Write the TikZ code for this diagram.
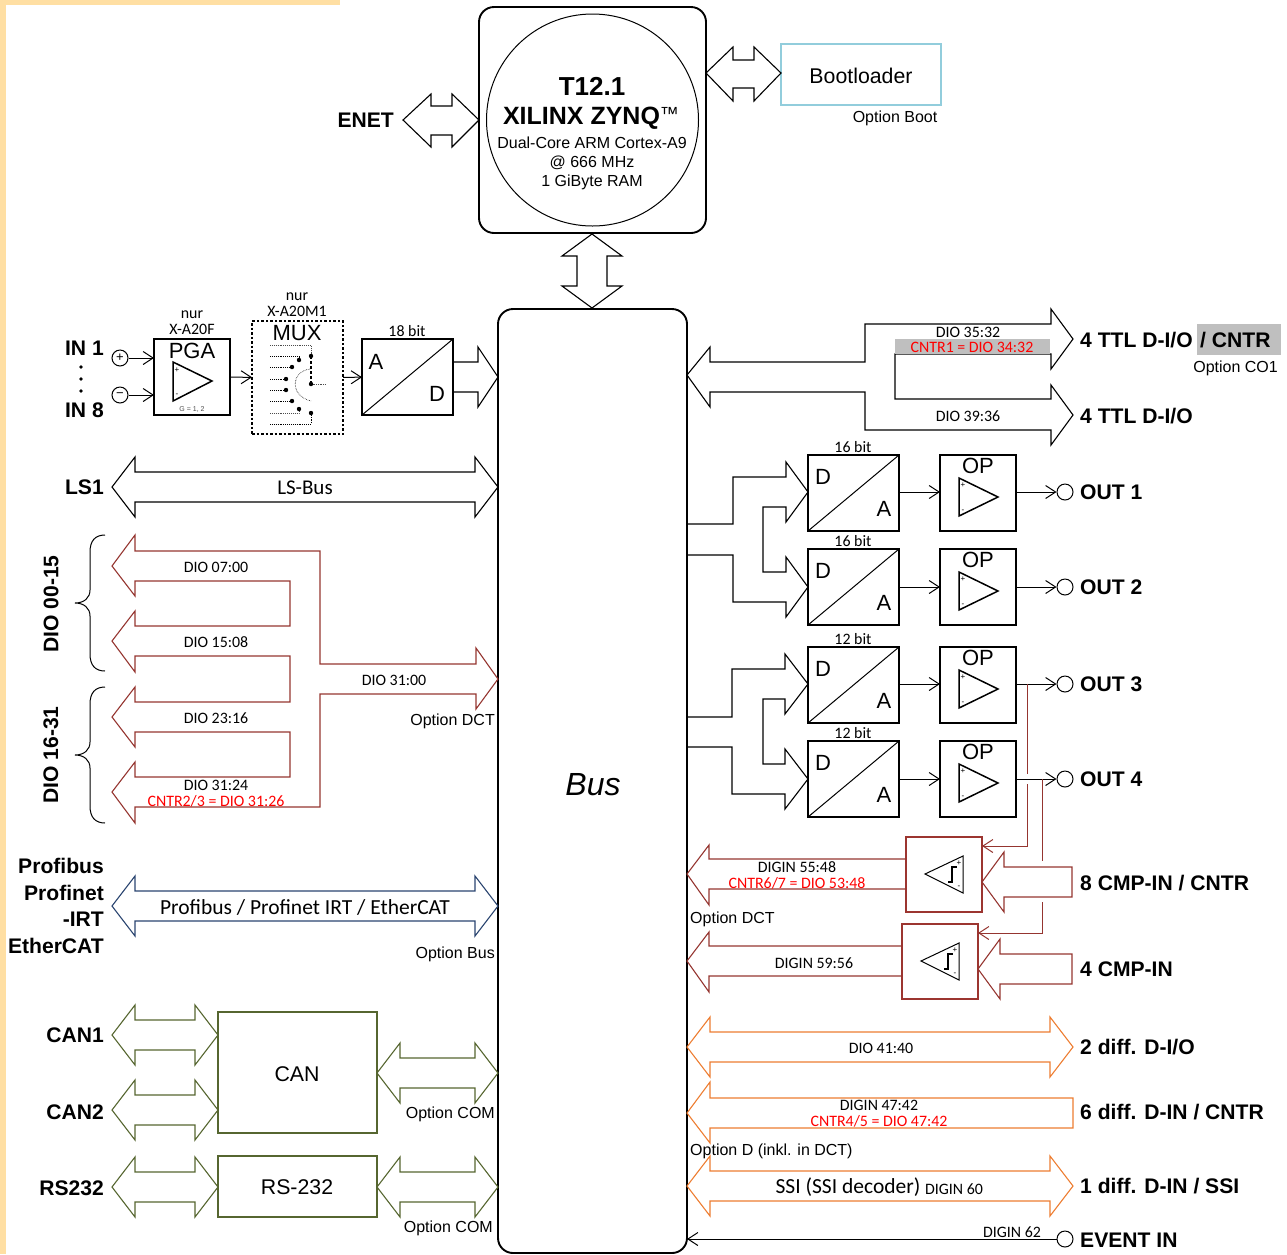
\documentclass[tikz,border=0pt]{standalone}
\usepackage{fontspec}
\setmainfont{Liberation Sans}
\newfontfamily\calibri{Carlito}
\usetikzlibrary{arrows.meta}
\definecolor{dctred}{HTML}{953530}
\definecolor{cmpred}{HTML}{9C3530}
\definecolor{cangreen}{HTML}{566630}
\definecolor{diffor}{HTML}{ED7D31}
\definecolor{busblue}{HTML}{2A4470}
\definecolor{bootblue}{HTML}{92CDDC}
\definecolor{stripe}{HTML}{FFDFA3}
\definecolor{markgray}{HTML}{BFBFBF}
\tikzset{
  blk/.style={draw,line width=1.9pt,inner sep=0pt,outer sep=0pt,anchor=north west},
  sig/.style={-{Straight Barb[length=10pt,width=13pt]},line width=1pt},
  hollow/.style={line width=1.1pt,line join=miter},
  pinc/.style={draw,circle,inner sep=0pt,minimum size=16pt,line width=1pt,font=\fontsize{13}{13}\selectfont},
  bold/.style={font=\fontsize{21.1}{25}\selectfont\bfseries,inner sep=0pt},
  arial/.style={font=\fontsize{16}{19}\selectfont,inner sep=0pt,yshift=-1pt},
  big/.style={font=\fontsize{22}{26}\selectfont,inner sep=0pt},
  small/.style={font=\calibri\fontsize{15.9}{18}\selectfont,inner sep=0pt,yshift=-0.5pt},
  medium/.style={font=\calibri\fontsize{21.5}{25}\selectfont,inner sep=0pt},
  tiny/.style={font=\fontsize{8}{8}\selectfont,inner sep=0pt},
}
% double headed block arrow: colour, left tip, right tip, mid line
\newcommand{\dblarrow}[4]{
  \draw[hollow,#1] (#2,#4) -- ({#2+23},{#4-30}) -- ({#2+23},{#4-15}) -- ({#3-23},{#4-15}) -- ({#3-23},{#4-30}) -- (#3,#4)
    -- ({#3-23},{#4+30}) -- ({#3-23},{#4+15}) -- ({#2+23},{#4+15}) -- ({#2+23},{#4+30}) -- cycle;
}
% curly bracket left of the DIO arrows: top end, bottom end
\newcommand{\diobrace}[2]{
  \draw[line width=1pt] (105,#1) .. controls (95,#1) and (90,{#1+6}) .. (90,{#1+17}) -- (90,{(#1+#2)/2-13})
    .. controls (90,{(#1+#2)/2-5}) and (84,{(#1+#2)/2}) .. (75,{(#1+#2)/2})
    .. controls (84,{(#1+#2)/2}) and (90,{(#1+#2)/2+5}) .. (90,{(#1+#2)/2+13}) -- (90,{#2-17})
    .. controls (90,{#2-6}) and (95,#2) .. (105,#2);
}
\begin{document}
\begin{tikzpicture}[x=1pt,y=-1pt]
\useasboundingbox (0,0) rectangle (1287,1254);
\fill[stripe] (0,0) rectangle (6,1254);
\fill[stripe] (0,0) rectangle (340,5);
% processor
\node[blk,rounded corners=15pt,minimum width=227pt,minimum height=226pt] (cpu) at (479,7) {};
\node[draw,circle,line width=1pt,minimum size=212pt,inner sep=0pt] (cpuc) at (592.5,120) {};
\node[font=\fontsize{26}{30}\selectfont\bfseries,inner sep=0pt] (cpuname) at (592,86) {T12.1};
\node[font=\fontsize{25}{30}\selectfont\bfseries,inner sep=0pt] (cpuchip) at (591,118) {XILINX ZYNQ\raisebox{4pt}{\fontsize{19}{19}\selectfont\mdseries™}};
\node[arial] (cpucore) at (592,142) {Dual-Core ARM Cortex-A9};
\node[arial] (cpuclk) at (592,162) {@ 666 MHz};
\node[arial] (cpuram) at (592,181) {1 GiByte RAM};
\node[bold,anchor=east] (enet) at (394,120) {ENET};
\draw[hollow] (403,120) -- (431,94) -- (431,106) -- (452,106) -- (452,94) -- (479,120) -- (452,147) -- (452,135) -- (431,135) -- (431,147) -- cycle;
\node[blk,draw=bootblue,minimum width=160pt,minimum height=61pt] (boot) at (781,44) {};
\node[font=\fontsize{21.3}{25}\selectfont,inner sep=0pt] (boottxt) at (861,76) {Bootloader};
\node[arial] (bootopt) at (895,117) {Option Boot};
\draw[hollow] (706,73) -- (733,47) -- (733,60) -- (754,60) -- (754,47) -- (781,73) -- (754,101) -- (754,88) -- (733,88) -- (733,101) -- cycle;
\draw[hollow] (592,234) -- (622,256) -- (607,256) -- (607,286) -- (622,286) -- (592,308) -- (562,286) -- (577,286) -- (577,256) -- (562,256) -- cycle;
% bus
\node[blk,rounded corners=15pt,minimum width=189pt,minimum height=944pt] (bus) at (498,309) {};
\node[font=\fontsize{32}{38}\selectfont\itshape,inner sep=0pt] (bustxt) at (593,785) {Bus};
% analog input
\node[bold,anchor=east] (in1) at (104,348) {IN 1};
\node[bold,anchor=east] (in8) at (104,410) {IN 8};
\foreach \y in {367,379,391} \fill (81,\y) circle (1.8pt);
\node[pinc] (inp) at (120,358) {+};
\node[pinc] (inm) at (120,395) {−};
\node[blk,minimum width=76pt,minimum height=76pt] (pga) at (154,339) {};
\draw[sig] (inp) -- (pga.west |- inp);
\draw[sig] (inm) -- (pga.west |- inm);
\node[big] (pgatxt) at (192,351) {PGA};
\draw[line width=1.5pt] (173,362) -- (212,381) -- (173,401) -- cycle;
\node[tiny] (pgap) at (177,370) {+};
\node[tiny] (pgam) at (177,395) {-};
\node[font=\fontsize{7}{7}\selectfont,inner sep=0pt,text=black!70] (pgagain) at (192,409) {G = 1, 2};
\node[small] (pganur) at (192,314) {nur};
\node[small] (pganame) at (192,329) {X-A20F};
\node[blk,dash pattern=on 2.5pt off 2pt,minimum width=91pt,minimum height=113pt] (mux) at (252,321) {};
\node[small] (muxnur) at (297,296) {nur};
\node[small] (muxname) at (297,311) {X-A20M1};
\node[big] (muxtxt) at (297,333) {MUX};
\draw[densely dotted,line width=0.9pt,black!70] (270,345) -- (311,345) -- (311,356);
\draw[densely dotted,line width=0.9pt] (270,356) -- (299,356) -- (299,360);
\draw[densely dotted,line width=0.9pt] (270,367) -- (292,367);
\draw[densely dotted,line width=0.9pt] (270,379) -- (286,379);
\draw[densely dotted,line width=0.9pt] (270,390) -- (286,390);
\draw[densely dotted,line width=0.9pt] (270,401) -- (292,401);
\draw[densely dotted,line width=0.9pt,black!70] (270,413) -- (299,413) -- (299,409);
\draw[densely dotted,line width=0.9pt] (270,424) -- (311,424) -- (311,413);
\draw[densely dashed,line width=1.2pt] (311,356) -- (311,384);
\draw[densely dotted,line width=0.7pt,black!70] (311,384) -- (326,384);
\draw[densely dotted,line width=0.6pt] (310,369) .. controls (290,372) and (290,396) .. (311,401);
\foreach \x/\y in {311/356,299/360,292/367,286/379,286/390,292/401,299/409,311/413,311/384} \fill (\x,\y) circle (2.2pt);
\node[blk,minimum width=91pt,minimum height=76pt] (ad) at (362,339) {};
\draw[line width=1pt] (ad.south west) -- (ad.north east);
\node[big] (adA) at (376,362) {A};
\node[big] (adD) at (437,394) {D};
\node[small] (adbit) at (407,331) {18 bit};
\draw[sig] (pga) -- (mux);
\draw[sig] (mux) -- (ad);
\draw[hollow] (453,362) -- (478,362) -- (478,347) -- (498,377) -- (478,407) -- (478,392) -- (453,392);
% left side buses
\node[bold,anchor=east] (ls1) at (104,487) {LS1};
\dblarrow{}{112}{498}{487}
\node[font=\calibri\fontsize{21}{25}\selectfont,inner sep=0pt] (lsbus) at (305,488) {LS-Bus};
\node[bold,rotate=90] (dio0) at (51,604) {DIO 00-15};
\node[bold,rotate=90] (dio1) at (51,755) {DIO 16-31};
\diobrace{535}{671}
\diobrace{687}{823}
\draw[hollow,dctred] (135,596) -- (135,581) -- (290,581) -- (290,626) -- (135,626) -- (135,611) -- (112,641) -- (135,672) -- (135,656) -- (290,656) -- (290,702) -- (135,702) -- (135,687) -- (112,717) -- (135,747) -- (135,732) -- (290,732) -- (290,777) -- (135,777) -- (135,762) -- (112,792) -- (135,823) -- (135,807) -- (320,807) -- (320,694) -- (476,694) -- (476,709) -- (498,679) -- (476,648) -- (476,664) -- (320,664) -- (320,551) -- (135,551) -- (135,535) -- (112,566) -- cycle;
\node[small] (dio07) at (216,567) {DIO 07:00};
\node[small] (dio15) at (216,642) {DIO 15:08};
\node[small] (dio23) at (216,718) {DIO 23:16};
\node[small] (dio31) at (216,785) {DIO 31:24};
\node[small,text=red] (cntr23) at (216,801) {CNTR2/3 = DIO 31:26};
\node[small] (dioall) at (394,680) {DIO 31:00};
\node[arial,anchor=east] (optdct) at (495,720) {Option DCT};
\node[bold,anchor=east,align=right,font=\fontsize{21.1}{26.8}\selectfont\bfseries] (profi) at (104,906) {Profibus\\Profinet\\-IRT\\EtherCAT};
\dblarrow{busblue}{112}{498}{906}
\node[medium] (profitxt) at (305,907) {Profibus / Profinet IRT / EtherCAT};
\node[arial,anchor=east] (optbus) at (495,953) {Option Bus};
\node[bold,anchor=east] (can1) at (104,1035) {CAN1};
\node[bold,anchor=east] (can2) at (104,1112) {CAN2};
\node[bold,anchor=east] (rs232) at (104,1188) {RS232};
\dblarrow{cangreen}{112}{218}{1035}
\dblarrow{cangreen}{112}{218}{1110}
\dblarrow{cangreen}{112}{218}{1187}
\dblarrow{cangreen}{377}{498}{1073}
\dblarrow{cangreen}{377}{498}{1187}
\node[blk,draw=cangreen,minimum width=159pt,minimum height=121pt] (canb) at (218,1012) {};
\node[blk,draw=cangreen,minimum width=159pt,minimum height=61pt] (rsb) at (218,1156) {};
\node[font=\fontsize{21.3}{25}\selectfont,inner sep=0pt] (cantxt) at (297,1074) {CAN};
\node[font=\fontsize{21.3}{25}\selectfont,inner sep=0pt] (rstxt) at (297,1187) {RS-232};
\node[arial,anchor=east] (optcom1) at (495,1113) {Option COM};
\node[arial,anchor=east] (optcom2) at (493,1227) {Option COM};
% TTL
\draw[hollow] (687,375) -- (710,347) -- (710,362) -- (865,362) -- (865,324) -- (1051,324) -- (1051,309) -- (1073,339) -- (1051,369) -- (1051,354) -- (895,354) -- (895,399) -- (1051,399) -- (1051,385) -- (1073,415) -- (1051,445) -- (1051,430) -- (865,430) -- (865,392) -- (710,392) -- (710,407) -- cycle;
\fill[markgray] (895,339) rectangle (1050,354);
\fill[markgray] (1197,324) rectangle (1281,355);
\node[small] (dio35) at (968,332) {DIO 35:32};
\node[small,text=red] (cntr1) at (972,347) {CNTR1 = DIO 34:32};
\node[small] (dio39) at (968,416) {DIO 39:36};
\node[bold,anchor=west] (ttl1) at (1080,340) {4 TTL D-I/O};
\node[bold,anchor=west] (ttl1b) at (1200,340) {/ CNTR};
\node[arial,anchor=east] (optco) at (1278,367) {Option CO1};
\node[bold,anchor=west] (ttl2) at (1080,416) {4 TTL D-I/O};
% analog outputs
\foreach \n/\ytop/\ya/\bits in {1/455/492/16,2/549/587/16,3/647/684/12,4/741/779/12} {
  \node[blk,minimum width=91pt,minimum height=76pt] (da\n) at (808,\ytop) {};
  \draw[line width=1pt] (da\n.south west) -- (da\n.north east);
  \node[big] (daD\n) at ([shift={(15,22)}]da\n.north west) {D};
  \node[big] (daA\n) at ([shift={(76,54)}]da\n.north west) {A};
  \node[small] (dabit\n) at ([shift={(45,-8.5)}]da\n.north west) {\bits\ bit};
  \node[blk,minimum width=76pt,minimum height=76pt] (op\n) at (940,\ytop) {};
  \node[big] (optxt\n) at ([shift={(38,11)}]op\n.north west) {OP};
  \draw[line width=1.5pt] ([shift={(19,23)}]op\n.north west) -- ++(39,19) -- ++(-39,19) -- cycle;
  \node[tiny] (opp\n) at ([shift={(23,30)}]op\n.north west) {+};
  \node[tiny] (opm\n) at ([shift={(23,56)}]op\n.north west) {-};
  \node[pinc] (out\n) at (1065,\ya) {};
  \node[bold,anchor=west,yshift=-0.5pt] (outtxt\n) at (1080,\ya) {OUT \n};
  \draw[sig] (da\n.east |- out\n) -- (op\n.west |- out\n);
  \draw[sig] (op\n.east |- out\n) -- (out\n);
}
\draw[hollow] (687,524) -- (733,524) -- (733,477) -- (786,477) -- (786,462) -- (808,492) -- (786,522) -- (786,507) -- (763,507) -- (763,572) -- (786,572) -- (786,557) -- (808,587) -- (786,617) -- (786,602) -- (733,602) -- (733,555) -- (687,555);
\draw[hollow] (687,717) -- (732,717) -- (732,669) -- (785,669) -- (785,654) -- (808,684) -- (785,714) -- (785,699) -- (763,699) -- (763,764) -- (785,764) -- (785,749) -- (808,779) -- (785,809) -- (785,794) -- (732,794) -- (732,747) -- (687,747);
% comparators
\node[blk,draw=cmpred,minimum width=76pt,minimum height=75pt] (cmp1) at (906,837) {};
\node[blk,draw=cmpred,minimum width=76pt,minimum height=75pt] (cmp2) at (902,924) {};
\foreach \n in {1,2} {
  \draw[line width=1pt] ([shift={(19,37)}]cmp\n.north west) -- ++(38,-18) -- ++(0,37) -- cycle;
  \draw[line width=1.2pt] ([shift={(42,45)}]cmp\n.north west) -- ++(4,0) -- ++(0,-15) -- ++(5,0);
  \node[tiny] (cmpp\n) at ([shift={(53,26)}]cmp\n.north west) {+};
  \node[tiny] (cmpm\n) at ([shift={(53,50)}]cmp\n.north west) {-};
}
\draw[hollow,dctred] (cmp1.west |- 0,859) -- (709,859) -- (709,845) -- (687,874) -- (709,905) -- (709,889) -- (cmp1.west |- 0,889);
\draw[hollow,dctred] (cmp2.west |- 0,946) -- (709,946) -- (709,932) -- (687,961) -- (709,992) -- (709,976) -- (cmp2.west |- 0,976);
\draw[hollow,dctred] (982,882) -- (1004,852) -- (1004,867) -- (1072,867) -- (1072,897) -- (1004,897) -- (1004,912) -- cycle;
\draw[hollow,dctred] (978,969) -- (1000,939) -- (1000,954) -- (1072,954) -- (1072,984) -- (1000,984) -- (1000,999) -- cycle;
\draw[dctred,line width=1pt] (1027,684) -- (1027,774);
\draw[sig,dctred] (1027,784) -- (1027,846) -- (982,846);
\draw[dctred,line width=1pt] (1042,779) -- (1042,861);
\draw[sig,dctred] (1042,902) -- (1042,933) -- (978,933);
\node[small] (dig55) at (797,867) {DIGIN 55:48};
\node[small,text=red] (cntr67) at (797,883) {CNTR6/7 = DIO 53:48};
\node[arial,anchor=west] (optdct2) at (690,918) {Option DCT};
\node[small] (dig59) at (814,963) {DIGIN 59:56};
\node[bold,anchor=west] (cmpin8) at (1080,883) {8 CMP-IN / CNTR};
\node[bold,anchor=west] (cmpin4) at (1080,969) {4 CMP-IN};
% differential
\dblarrow{diffor}{687}{1073}{1047}
\node[small] (dio41) at (881,1048) {DIO 41:40};
\node[bold,anchor=west] (diff2) at (1080,1047) {2 diff. D-I/O};
\draw[hollow,diffor] (687,1113) -- (710,1082) -- (710,1098) -- (1073,1098) -- (1073,1128) -- (710,1128) -- (710,1143) -- cycle;
\node[small] (dig47) at (879,1105) {DIGIN 47:42};
\node[small,text=red] (cntr45) at (879,1121) {CNTR4/5 = DIO 47:42};
\node[bold,anchor=west] (diff6) at (1080,1112) {6 diff. D-IN / CNTR};
\node[arial,anchor=west] (optd) at (690,1150) {Option D (inkl. in DCT)};
\dblarrow{diffor}{687}{1073}{1186}
\node[medium] (ssi) at (848,1187) {SSI (SSI decoder)};
\node[small] (dig60) at (954,1189) {DIGIN 60};
\node[bold,anchor=west] (diff1) at (1080,1186) {1 diff. D-IN / SSI};
% event
\node[pinc] (evc) at (1065,1239) {};
\node[bold,anchor=west] (evtxt) at (1080,1240) {EVENT IN};
\node[small] (dig62) at (1012,1232) {DIGIN 62};
\draw[sig] (evc) -- (bus.east |- evc);
\end{tikzpicture}
\end{document}
